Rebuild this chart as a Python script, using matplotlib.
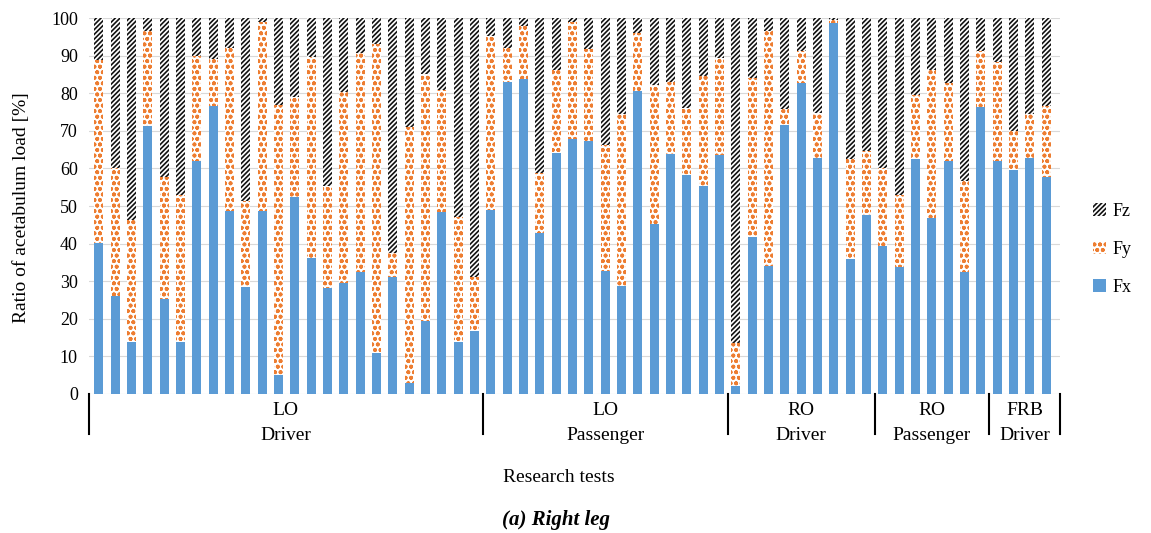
"""
Stacked ratio of acetabulum load components (Fx, Fy, Fz) per research test, right leg.
"""

import numpy as np
import matplotlib
matplotlib.use('Agg')
import matplotlib.pyplot as plt

plt.rcParams['font.family'] = ['Liberation Serif', 'DejaVu Serif']
plt.rcParams['hatch.linewidth'] = 1.2

# Component shares [%] for each of the 59 tests
FX = [40.1, 26.1, 13.9, 71.4, 25.2, 13.9, 62.0, 76.7, 48.7, 28.4, 48.7, 5.0,
      52.5, 36.3, 28.3, 29.4, 32.5, 10.8, 31.2, 2.8, 19.5, 48.5, 13.9, 16.8,
      48.9, 83.1, 83.7, 42.7, 64.0, 67.7, 67.3, 32.8, 28.7, 80.6, 45.2, 63.8,
      58.2, 55.4, 63.6,
      2.1, 41.7, 34.0, 71.5, 82.6, 62.7, 98.8, 35.8, 47.6,
      39.4, 33.9, 62.4, 46.9, 62.1, 32.4, 76.2,
      62.1, 59.6, 62.9, 57.8]
FY = [48.7, 33.9, 32.4, 25.2, 32.6, 39.0, 28.0, 12.3, 43.2, 22.9, 50.3, 71.9,
      26.6, 53.4, 27.0, 51.0, 58.3, 82.2, 6.2, 68.3, 65.6, 32.4, 33.1, 14.4,
      46.3, 8.8, 14.2, 16.2, 22.3, 31.3, 24.4, 33.4, 45.7, 15.3, 37.0, 19.3,
      17.8, 29.2, 25.7,
      11.4, 42.3, 62.6, 4.2, 8.7, 12.1, 0.8, 26.6, 17.1,
      20.8, 18.9, 17.1, 39.4, 20.5, 24.3, 15.1,
      26.3, 10.4, 11.6, 18.8]
FZ = [11.2, 40.0, 53.7, 3.4, 42.2, 47.1, 10.0, 11.0, 8.1, 48.7, 1.0, 23.1,
      20.9, 10.3, 44.7, 19.6, 9.2, 7.0, 62.6, 28.9, 14.9, 19.1, 53.0, 68.8,
      4.8, 8.1, 2.1, 41.1, 13.7, 1.0, 8.3, 33.8, 25.6, 4.1, 17.8, 16.9,
      24.0, 15.4, 10.7,
      86.5, 16.0, 3.4, 24.3, 8.7, 25.2, 0.4, 37.6, 35.3,
      39.8, 47.2, 20.5, 13.7, 17.4, 43.3, 8.7,
      11.6, 30.0, 25.5, 23.4]

GROUP_SIZES = [24, 15, 9, 7, 4]
GROUP_TOP = ['LO', 'LO', 'RO', 'RO', 'FRB']
GROUP_BOTTOM = ['Driver', 'Passenger', 'Driver', 'Passenger', 'Driver']

BLUE = '#5B9BD5'
ORANGE = '#ED7D31'


def main():
    fig = plt.figure(figsize=(11.51, 5.33), dpi=100)
    ax = fig.add_axes([0.0773, 0.2608, 0.8437, 0.7054])

    x = np.arange(len(FX))
    fx = np.array(FX)
    fy = np.array(FY)
    fz = np.array(FZ)
    w = 0.56

    ax.bar(x, fx, w, color=BLUE, linewidth=0, label='Fx', zorder=2)
    ax.bar(x, fy, w, bottom=fx, facecolor='white', edgecolor=ORANGE,
           hatch='ooo', linewidth=0, label='Fy', zorder=2)
    ax.bar(x, fz, w, bottom=fx + fy, facecolor='white', edgecolor='#111111',
           hatch='///////', linewidth=0, label='Fz', zorder=2)

    ax.set_xlim(-0.6, len(FX) - 0.15)
    ax.set_ylim(0, 100)
    ax.set_yticks(range(0, 101, 10))
    ax.tick_params(axis='y', length=0, labelsize=13, pad=8)
    ax.set_xticks([])
    ax.grid(True, axis='y', color='#d9d9d9', linewidth=0.8, zorder=0)
    for s in ax.spines.values():
        s.set_visible(False)

    # group separators and two-line category labels
    trans = ax.get_xaxis_transform()
    edges = np.concatenate([[0], np.cumsum(GROUP_SIZES)]) - 0.5
    edges[0] = -0.6
    edges[-1] = len(FX) - 0.15
    for e in edges:
        ax.plot([e, e], [0, -0.107], color='black', linewidth=1.5,
                transform=trans, clip_on=False)
    for i in range(len(GROUP_SIZES)):
        c = (edges[i] + edges[i + 1]) / 2
        ax.text(c, -0.043, GROUP_TOP[i], transform=trans, ha='center',
                va='center', fontsize=14)
        ax.text(c, -0.11, GROUP_BOTTOM[i], transform=trans, ha='center',
                va='center', fontsize=14)

    fig.text(22 / 1151, 0.61, 'Ratio of acetabulum load [%]', rotation=90,
             ha='center', va='center', fontsize=14)
    fig.text(559 / 1151, 1 - 478 / 533, 'Research tests', ha='center',
             va='center', fontsize=14)
    fig.text(556 / 1151, 1 - 520 / 533, '(a) Right leg', ha='center',
             va='center', fontsize=15, fontweight='bold', style='italic')

    handles, labels = ax.get_legend_handles_labels()
    ax.legend(handles[::-1], labels[::-1], loc='center left',
              bbox_to_anchor=(1.017, 0.385), frameon=False, fontsize=13,
              handlelength=0.75, handleheight=0.75, handletextpad=0.35,
              labelspacing=1.15)

    fig.savefig('out.png', dpi=100)
    plt.close(fig)


if __name__ == "__main__":
    main()
